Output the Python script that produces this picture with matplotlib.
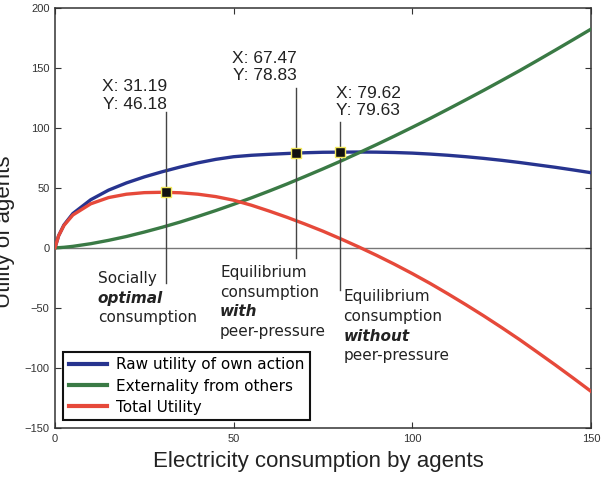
import numpy as np
import matplotlib
matplotlib.use("Agg")
import matplotlib.pyplot as plt

# datos
consumo = [0, 1, 2.5, 5, 10, 15, 20, 25, 30, 35, 40, 45, 50, 55, 60, 65, 70, 75,
           80, 85, 90, 95, 100, 105, 110, 115, 120, 125, 130, 135, 140, 145, 150]
utilidad_propia = [0, 10, 19, 28.5, 40, 48, 54, 59, 63.3, 67.2, 70.7, 73.6, 75.8, 77.0, 77.8,
                   78.5, 79.1, 79.5, 79.6, 79.7, 79.6, 79.3, 78.8, 78.0, 77.0, 75.8, 74.4,
                   72.8, 71.0, 69.0, 67.0, 64.8, 62.5]
externalidad = [0, 0.1, 0.4, 1.2, 3.4, 6.2, 9.4, 13.1, 17.1, 21.4, 26.1, 31.0, 36.2, 41.6,
                47.3, 53.2, 59.4, 65.7, 72.2, 79.0, 85.9, 93.0, 100.3, 107.7, 115.4, 123.2,
                131.1, 139.2, 147.4, 155.9, 164.5, 173.2, 182.0]
utilidad_total = [0, 9.9, 18.6, 27.3, 36.6, 41.8, 44.6, 45.9, 46.2, 45.8, 44.6, 42.6, 39.6,
                  35.4, 30.5, 25.3, 19.7, 13.8, 7.4, 0.7, -6.3, -13.7, -21.5, -29.7, -38.4,
                  -47.4, -56.7, -66.4, -76.4, -86.9, -97.5, -108.4, -119.5]

tips_x = [31.19, 67.47, 79.62]
tips_y = [46.18, 78.83, 79.63]

etiquetas = ['Raw utility of own action', 'Externality from others', 'Total Utility']

fig = plt.figure(figsize=(6.03, 4.78), dpi=100)
ax = fig.add_axes([55/603, 1-428/478, 536/603, 420.5/478])

ax.axhline(0, color='#777777', lw=1, zorder=1)
ax.plot(consumo, utilidad_propia, color='#27348f', lw=2.4, label=etiquetas[0], zorder=3)
ax.plot(consumo, externalidad, color='#3a7a45', lw=2.4, label=etiquetas[1], zorder=3)
ax.plot(consumo, utilidad_total, color='#e6493a', lw=2.4, label=etiquetas[2], zorder=3)

# lineas verticales de los data tips y marcadores
tope_linea = [113, 133, 105]
fondo_linea = [-29.4, -8.6, -35.3]
for i in range(3):
    ax.plot([tips_x[i], tips_x[i]], [fondo_linea[i], tope_linea[i]], color='#444444', lw=1, zorder=4)
    ax.plot(tips_x[i], tips_y[i], 's', ms=7, mfc='#111111', mec='#f2e85a', mew=1, zorder=5)

fuente_tip = dict(family='Liberation Sans', fontsize=12.5, color='#222222', linespacing=1.2)
ax.text(tips_x[0] + 0.2, 126.8, f'X: {tips_x[0]:.2f}\nY: {tips_y[0]:.2f}', ha='right', va='center', **fuente_tip)
ax.text(tips_x[1] + 0.2, 150.3, f'X: {tips_x[1]:.2f}\nY: {tips_y[1]:.2f}', ha='right', va='center', **fuente_tip)
ax.text(tips_x[2] - 1.0, 121.4, f'X: {tips_x[2]:.2f}\nY: {tips_y[2]:.2f}', ha='left', va='center', **fuente_tip)

# bloques de texto explicativos (una linea por texto para poder mezclar estilos)
bloques = [
    (12.0, [-25.3, -41.9, -57.7], ['Socially', 'optimal', 'consumption']),
    (46.2, [-20.5, -37.2, -53.3, -69.4], ['Equilibrium', 'consumption', 'with', 'peer-pressure']),
    (80.7, [-40.3, -56.9, -73.6, -89.4], ['Equilibrium', 'consumption', 'without', 'peer-pressure']),
]
for xb, ys, lineas in bloques:
    for yl, t in zip(ys, lineas):
        negrita = t in ('optimal', 'with', 'without')
        ax.text(xb, yl, t, ha='left', va='center', family='DejaVu Sans', fontsize=11,
                color='#222222', fontweight='bold' if negrita else 'normal',
                fontstyle='italic' if negrita else 'normal')

ax.set_xlim(0, 150)
ax.set_ylim(-150, 200)
ax.set_xticks([0, 50, 100, 150])
ax.set_yticks([-150, -100, -50, 0, 50, 100, 150, 200])
ax.tick_params(direction='in', length=4, width=0.8, top=True, right=True,
               labelsize=8, colors='#333333', pad=4)
for lab in ax.get_xticklabels() + ax.get_yticklabels():
    lab.set_family('Liberation Sans')
for s in ax.spines.values():
    s.set_color('#333333')
    s.set_linewidth(1.1)

leg = ax.legend(loc='lower left', bbox_to_anchor=(0.0155, 0.019), borderaxespad=0,
                prop={'family': 'DejaVu Sans', 'size': 11}, handlelength=2.5,
                labelspacing=0.4, fancybox=False, framealpha=1, borderpad=0.35,
                handletextpad=0.6)
leg.get_frame().set_edgecolor('#111111')
leg.get_frame().set_linewidth(1.5)
for l in leg.get_lines():
    l.set_linewidth(3)

fig.text(318/603, 1-461.7/478, 'Electricity consumption by agents', ha='center', va='center',
         family='Liberation Sans', fontsize=16, color='#222222')
fig.text(15/603, 1-232/478, 'Utility of agents', ha='right', va='center', rotation=90,
         family='Liberation Sans', fontsize=16, color='#222222')

fig.savefig('out.png', dpi=100)
